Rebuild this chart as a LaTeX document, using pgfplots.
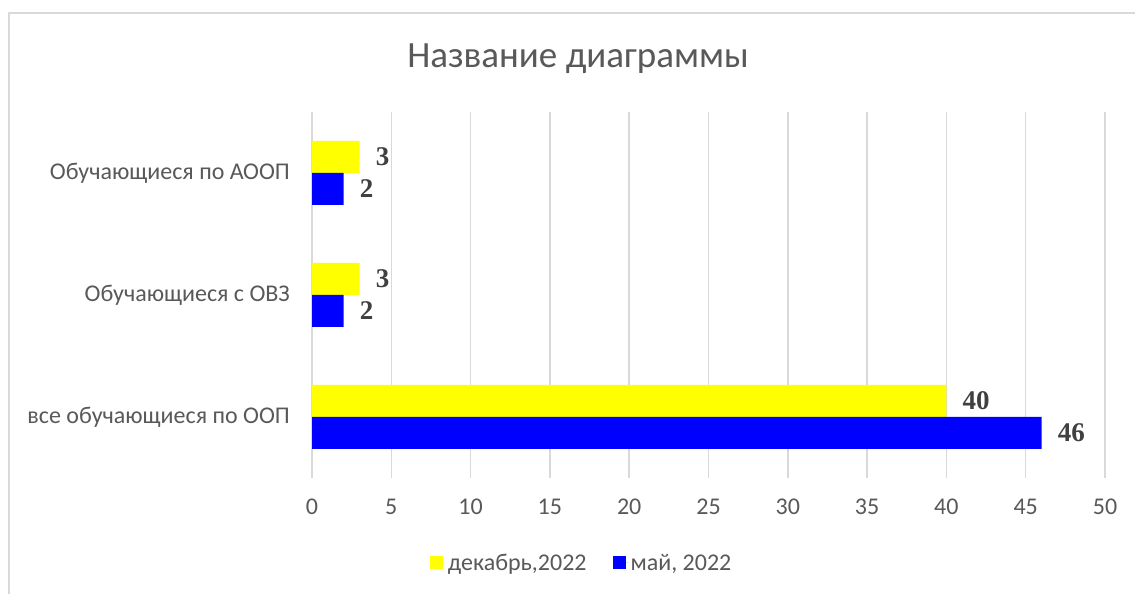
\documentclass[border=0pt]{standalone}
\usepackage{fontspec}
\setmainfont{Carlito}
\newfontfamily\lserif{Liberation Serif}
\usepackage{pgfplots}
\pgfplotsset{compat=1.18}
\definecolor{gridc}{HTML}{D9D9D9}
\definecolor{txt}{HTML}{595959}
\definecolor{lbl}{HTML}{404040}
\definecolor{ylw}{HTML}{FFFF00}
\definecolor{blu}{HTML}{0000FF}
\begin{document}
\begin{tikzpicture}[x=1bp,y=1bp]
\useasboundingbox (0,0) rectangle (1135,594);
\fill[white] (0,0) rectangle (1135,594);
\draw[gridc, line width=1.5bp] (9,0) -- (9,581) -- (1135,581);
\node[text=txt, font=\fontsize{37bp}{44bp}\selectfont] at (578,535) {Название диаграммы};
\begin{axis}[
 at={(312bp,116bp)}, anchor=south west,
 width=793bp, height=366bp, scale only axis,
 xbar, bar width=32bp,
 xmin=0, xmax=50, xtick={0,5,...,50},
 ymin=-0.5, ymax=2.5, ytick={0,1,2},
 yticklabels={все обучающиеся по ООП, Обучающиеся с ОВЗ, Обучающиеся по АООП},
 axis line style={draw=none},
 major tick length=0pt,
 xmajorgrids, grid style={gridc, line width=1.5bp},
 /pgf/number format/assume math mode=true,
 ticklabel style={text=txt, font=\fontsize{24bp}{28bp}\selectfont},
 xticklabel style={anchor=north, inner sep=0pt, yshift=-21bp},
 yticklabel style={anchor=east, inner sep=0pt, xshift=-22bp},
 nodes near coords,
 every node near coord/.append style={anchor=west, inner sep=0pt, xshift=16bp, text=lbl, font=\lserif\bfseries\fontsize{27bp}{31bp}\selectfont},
 legend columns=2,
 legend style={draw=none, fill=none, at={(0.34,-0.232)}, anchor=center, text=txt, font=\fontsize{24bp}{28bp}\selectfont,
   /tikz/every even column/.append style={column sep=24bp}},
 legend image code/.code={\fill[#1, draw=none] (0bp,-6.5bp) rectangle (13bp,6.5bp); \path (0bp,0bp) -- (16bp,0bp);},
 clip=false,
]
\addplot[fill=ylw, draw=none, bar shift=16bp] coordinates {(40,0) (3,1) (3,2)};
\addplot[fill=blu, draw=none, bar shift=-16bp] coordinates {(46,0) (2,1) (2,2)};
\legend{декабрь{,}2022, {май, 2022}}
\end{axis}
\end{tikzpicture}
\end{document}
